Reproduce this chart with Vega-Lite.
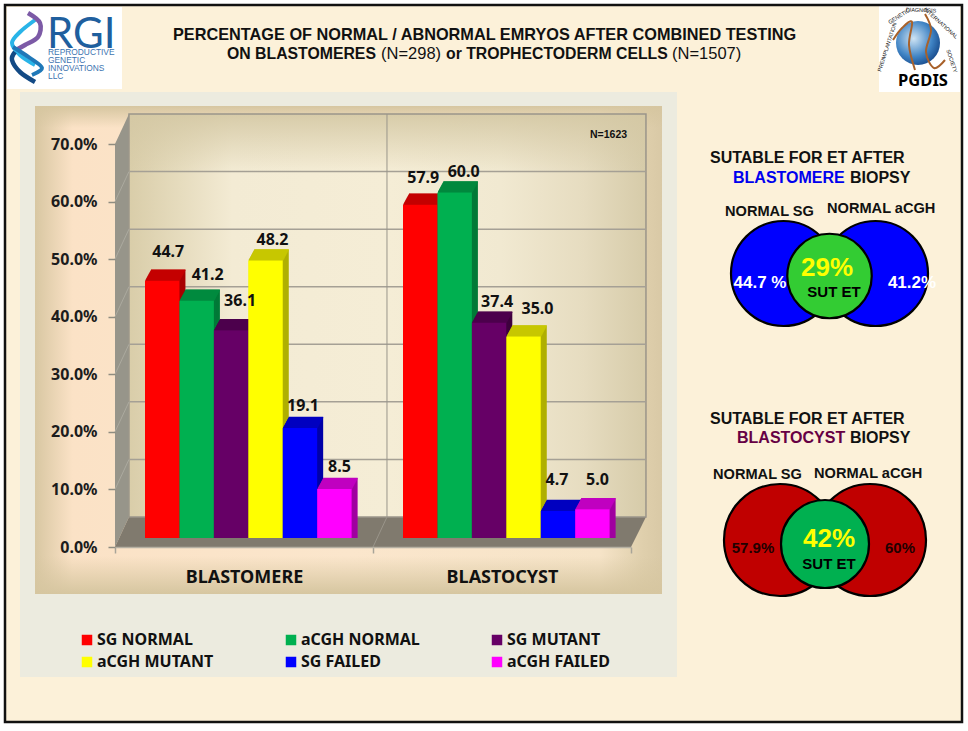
{
"$schema":"https://vega.github.io/schema/vega-lite/v6.json",
"width":968,"height":731,"padding":0,"autosize":{"type":"none"},"background":"#ffffff",
"data":{"values":[{"slide":"PGDIS"}]},
"config":{"view":{"stroke":null},"axis":{"labels":false,"ticks":false,"domain":false,"grid":false,"title":null},"legend":{"disable":true},
"text":{"font":"Liberation Sans","fontWeight":"bold","fontSize":16,"align":"left","baseline":"middle","color":"#111111"}},
"datasets":{
"bars":[
{"group":"BLASTOMERE","series":"SG NORMAL","value":44.7},
{"group":"BLASTOMERE","series":"aCGH NORMAL","value":41.2},
{"group":"BLASTOMERE","series":"SG MUTANT","value":36.1},
{"group":"BLASTOMERE","series":"aCGH MUTANT","value":48.2},
{"group":"BLASTOMERE","series":"SG FAILED","value":19.1},
{"group":"BLASTOMERE","series":"aCGH FAILED","value":8.5},
{"group":"BLASTOCYST","series":"SG NORMAL","value":57.9},
{"group":"BLASTOCYST","series":"aCGH NORMAL","value":60.0},
{"group":"BLASTOCYST","series":"SG MUTANT","value":37.4},
{"group":"BLASTOCYST","series":"aCGH MUTANT","value":35.0},
{"group":"BLASTOCYST","series":"SG FAILED","value":4.7},
{"group":"BLASTOCYST","series":"aCGH FAILED","value":5.0}],
"grid":[{"front":10,"back":15.21},{"front":20,"back":25.21},{"front":30,"back":35.21},{"front":40,"back":45.21},{"front":50,"back":55.21},{"front":60,"back":65.21}],
"venn":[
{"biopsy":"BLASTOMERE","set":"NORMAL SG","value":44.7},{"biopsy":"BLASTOMERE","set":"NORMAL aCGH","value":41.2},{"biopsy":"BLASTOMERE","set":"SUT ET","value":29},
{"biopsy":"BLASTOCYST","set":"NORMAL SG","value":57.9},{"biopsy":"BLASTOCYST","set":"NORMAL aCGH","value":60},{"biopsy":"BLASTOCYST","set":"SUT ET","value":42}]
},
"resolve":{"scale":{"x":"independent","y":"independent"}},
"layer":[
{"layer":[
{"mark":{"type":"rect","fill":"#fcf1d9"},"encoding":{"x":{"datum":5,"scale":{"domain":[0,968],"range":[0,968],"nice":false}},"x2":{"datum":962},"y":{"datum":5,"scale":{"domain":[0,731],"range":[0,731],"nice":false}},"y2":{"datum":722}}},
{"mark":{"type":"rect","fill":"#ecebdf"},"encoding":{"x":{"datum":20},"x2":{"datum":677},"y":{"datum":92},"y2":{"datum":677}}},
{"mark":{"type":"rect","fill":{"gradient":"linear","x1":0,"y1":0,"x2":1,"y2":0,"stops":[{"offset":0,"color":"#d8c7a2"},{"offset":0.06,"color":"#fbe2c6"},{"offset":0.5,"color":"#fbe6cc"},{"offset":0.9,"color":"#f6e4c8"},{"offset":0.97,"color":"#dfcfac"},{"offset":1,"color":"#d9c9a6"}]}},"encoding":{"x":{"datum":35},"x2":{"datum":662},"y":{"datum":106},"y2":{"datum":594}}},
{"mark":{"type":"rect","fill":{"gradient":"linear","x1":0,"y1":0,"x2":0,"y2":1,"stops":[{"offset":0,"color":"rgba(214,198,160,0)"},{"offset":1,"color":"rgba(214,198,160,1)"}]}},"encoding":{"x":{"datum":35},"x2":{"datum":662},"y":{"datum":556},"y2":{"datum":594}}},
{"mark":{"type":"rect","fill":{"gradient":"linear","x1":0,"y1":0,"x2":0,"y2":1,"stops":[{"offset":0,"color":"rgba(214,198,160,1)"},{"offset":1,"color":"rgba(214,198,160,0)"}]}},"encoding":{"x":{"datum":35},"x2":{"datum":662},"y":{"datum":106},"y2":{"datum":128}}},
{"mark":{"type":"rect","fill":"#ffffff"},"encoding":{"x":{"datum":7},"x2":{"datum":122},"y":{"datum":7},"y2":{"datum":89}}},
{"mark":{"type":"rect","fill":"#ffffff"},"encoding":{"x":{"datum":879},"x2":{"datum":960},"y":{"datum":6},"y2":{"datum":92}}},
{"mark":{"type":"rect","fill":null,"stroke":"#111111","strokeWidth":2.5},"encoding":{"x":{"datum":5},"x2":{"datum":962},"y":{"datum":5},"y2":{"datum":722}}}
]},
{"layer":[
{"data":{"values":[{"along":0,"low":0,"high":70},{"along":0.0271,"low":5.21,"high":75.21}]},"mark":{"type":"area","fill":"#97958a"},"encoding":{"x":{"field":"along","type":"quantitative","title":null,"scale":{"domain":[0,1],"range":[115,631]}},"y":{"field":"low","type":"quantitative","stack":null,"scale":{"domain":[0,70],"range":[547,144]},"axis":{"title":null,"orient":"left","zindex":1,"values":[0,10,20,30,40,50,60,70],"labelExpr":"format(datum.value,'.1f')+'%'","offset":-115,"labels":true,"ticks":true,"domain":false,"grid":false,"tickSize":7,"tickColor":"#8f8c80","tickWidth":1.5,"labelPadding":11,"labelFont":"Noto Sans","labelFontWeight":"bold","labelFontSize":16,"labelColor":"#1c1c1c"}},"y2":{"field":"high"}}},
{"data":{"values":[{"depth":0,"start":0,"end":1},{"depth":5.21,"start":0.0271,"end":1.029}]},"mark":{"type":"area","orient":"horizontal","fill":"#807a6e"},"encoding":{"y":{"field":"depth","type":"quantitative","title":null,"stack":null},"x":{"field":"start","type":"quantitative","title":null},"x2":{"field":"end"}}},
{"mark":{"type":"rect","fill":{"gradient":"linear","x1":0,"y1":0,"x2":1,"y2":0,"stops":[{"offset":0,"color":"#d9cda9"},{"offset":0.1,"color":"#e6dcbe"},{"offset":0.2,"color":"#f3ebd4"},{"offset":0.5,"color":"#f5edd6"},{"offset":0.72,"color":"#f1e9d1"},{"offset":0.88,"color":"#e6dcc0"},{"offset":1,"color":"#d6cba9"}]}},"encoding":{"x":{"datum":0.0271},"x2":{"datum":1.029},"y":{"datum":5.21},"y2":{"datum":75.21}}},
{"mark":{"type":"rect","fill":{"gradient":"linear","x1":0,"y1":0,"x2":0,"y2":1,"stops":[{"offset":0,"color":"rgba(212,200,164,0.9)"},{"offset":1,"color":"rgba(212,200,164,0)"}]}},"encoding":{"x":{"datum":0.0271},"x2":{"datum":1.029},"y":{"datum":65.21},"y2":{"datum":75.21}}},
{"mark":{"type":"rect","fill":null,"stroke":"#9a958a","strokeWidth":1.5},"encoding":{"x":{"datum":0.0271},"x2":{"datum":1.029},"y":{"datum":5.21},"y2":{"datum":75.21}}},
{"data":{"name":"grid"},"mark":{"type":"rule","stroke":"#a5a095","strokeWidth":1.5},"encoding":{"x":{"datum":0.0271},"x2":{"datum":1.029},"y":{"field":"back","type":"quantitative","title":null}}},
{"data":{"name":"grid"},"mark":{"type":"rule","stroke":"#acaa9f","strokeWidth":1},"encoding":{"x":{"datum":0},"x2":{"datum":0.0271},"y":{"field":"front","type":"quantitative","title":null},"y2":{"field":"back"}}},
{"mark":{"type":"rule","stroke":"#9a958a","strokeWidth":1},"encoding":{"x":{"datum":0.5271},"y":{"datum":5.21},"y2":{"datum":75.21}}},
{"mark":{"type":"rule","stroke":"#9a958a","strokeWidth":1},"encoding":{"x":{"datum":0.5},"x2":{"datum":0.5271},"y":{"datum":0},"y2":{"datum":5.21}}}
]},
{"data":{"name":"bars"},
"encoding":{
"x":{"field":"group","type":"nominal","title":null,"scale":{"domain":["BLASTOMERE","BLASTOCYST"],"range":[115,631],"paddingInner":0,"paddingOuter":0}},
"y":{"field":"value","type":"quantitative","stack":null,"title":null,"scale":{"domain":[0,70],"range":[538,135]}}},
"resolve":{"scale":{"xOffset":"independent","color":"independent"}},
"layer":[
{"encoding":{"color":{"field":"series","type":"nominal","scale":{"domain":["SG NORMAL","aCGH NORMAL","SG MUTANT","aCGH MUTANT","SG FAILED","aCGH FAILED"],"range":["#a80000","#007a38","#3f003f","#b0b000","#0000a8","#a000a0"]}}},
"resolve":{"scale":{"xOffset":"independent"}},
"layer":[
{"mark":{"type":"bar","yOffset":-11,"y2Offset":-11},"encoding":{"xOffset":{"field":"series","type":"nominal","sort":null,"scale":{"range":[36,242.6]}}}},
{"mark":{"type":"bar","yOffset":-10,"y2Offset":-10},"encoding":{"xOffset":{"field":"series","type":"nominal","sort":null,"scale":{"range":[35.45,242.05]}}}},
{"mark":{"type":"bar","yOffset":-9,"y2Offset":-9},"encoding":{"xOffset":{"field":"series","type":"nominal","sort":null,"scale":{"range":[34.91,241.51]}}}},
{"mark":{"type":"bar","yOffset":-8,"y2Offset":-8},"encoding":{"xOffset":{"field":"series","type":"nominal","sort":null,"scale":{"range":[34.36,240.96]}}}},
{"mark":{"type":"bar","yOffset":-7,"y2Offset":-7},"encoding":{"xOffset":{"field":"series","type":"nominal","sort":null,"scale":{"range":[33.82,240.42]}}}},
{"mark":{"type":"bar","yOffset":-6,"y2Offset":-6},"encoding":{"xOffset":{"field":"series","type":"nominal","sort":null,"scale":{"range":[33.27,239.87]}}}},
{"mark":{"type":"bar","yOffset":-5,"y2Offset":-5},"encoding":{"xOffset":{"field":"series","type":"nominal","sort":null,"scale":{"range":[32.73,239.33]}}}},
{"mark":{"type":"bar","yOffset":-4,"y2Offset":-4},"encoding":{"xOffset":{"field":"series","type":"nominal","sort":null,"scale":{"range":[32.18,238.78]}}}},
{"mark":{"type":"bar","yOffset":-3,"y2Offset":-3},"encoding":{"xOffset":{"field":"series","type":"nominal","sort":null,"scale":{"range":[31.64,238.24]}}}},
{"mark":{"type":"bar","yOffset":-2,"y2Offset":-2},"encoding":{"xOffset":{"field":"series","type":"nominal","sort":null,"scale":{"range":[31.09,237.69]}}}},
{"mark":{"type":"bar","yOffset":-1,"y2Offset":-1},"encoding":{"xOffset":{"field":"series","type":"nominal","sort":null,"scale":{"range":[30.55,237.15]}}}}
]},
{"encoding":{"color":{"field":"series","type":"nominal","scale":{"domain":["SG NORMAL","aCGH NORMAL","SG MUTANT","aCGH MUTANT","SG FAILED","aCGH FAILED"],"range":["#c80000","#008a3e","#4c004c","#c8c800","#0000c0","#c000c0"]}}},
"resolve":{"scale":{"xOffset":"independent"}},
"layer":[
{"mark":{"type":"tick","opacity":1,"thickness":1.4,"width":{"band":1},"yOffset":-10.5},"encoding":{"xOffset":{"field":"series","type":"nominal","sort":null,"scale":{"range":[36,242.6]}}}},
{"mark":{"type":"tick","opacity":1,"thickness":1.4,"width":{"band":1},"yOffset":-9.5},"encoding":{"xOffset":{"field":"series","type":"nominal","sort":null,"scale":{"range":[35.45,242.05]}}}},
{"mark":{"type":"tick","opacity":1,"thickness":1.4,"width":{"band":1},"yOffset":-8.5},"encoding":{"xOffset":{"field":"series","type":"nominal","sort":null,"scale":{"range":[34.91,241.51]}}}},
{"mark":{"type":"tick","opacity":1,"thickness":1.4,"width":{"band":1},"yOffset":-7.5},"encoding":{"xOffset":{"field":"series","type":"nominal","sort":null,"scale":{"range":[34.36,240.96]}}}},
{"mark":{"type":"tick","opacity":1,"thickness":1.4,"width":{"band":1},"yOffset":-6.5},"encoding":{"xOffset":{"field":"series","type":"nominal","sort":null,"scale":{"range":[33.82,240.42]}}}},
{"mark":{"type":"tick","opacity":1,"thickness":1.4,"width":{"band":1},"yOffset":-5.5},"encoding":{"xOffset":{"field":"series","type":"nominal","sort":null,"scale":{"range":[33.27,239.87]}}}},
{"mark":{"type":"tick","opacity":1,"thickness":1.4,"width":{"band":1},"yOffset":-4.5},"encoding":{"xOffset":{"field":"series","type":"nominal","sort":null,"scale":{"range":[32.73,239.33]}}}},
{"mark":{"type":"tick","opacity":1,"thickness":1.4,"width":{"band":1},"yOffset":-3.5},"encoding":{"xOffset":{"field":"series","type":"nominal","sort":null,"scale":{"range":[32.18,238.78]}}}},
{"mark":{"type":"tick","opacity":1,"thickness":1.4,"width":{"band":1},"yOffset":-2.5},"encoding":{"xOffset":{"field":"series","type":"nominal","sort":null,"scale":{"range":[31.64,238.24]}}}},
{"mark":{"type":"tick","opacity":1,"thickness":1.4,"width":{"band":1},"yOffset":-1.5},"encoding":{"xOffset":{"field":"series","type":"nominal","sort":null,"scale":{"range":[31.09,237.69]}}}},
{"mark":{"type":"tick","opacity":1,"thickness":1.4,"width":{"band":1},"yOffset":-0.5},"encoding":{"xOffset":{"field":"series","type":"nominal","sort":null,"scale":{"range":[30.55,237.15]}}}}
]},
{"encoding":{"xOffset":{"field":"series","type":"nominal","sort":null,"scale":{"range":[30,236.6]}}},
"layer":[
{"mark":{"type":"bar"},"encoding":{
"x":{"field":"group","type":"nominal","axis":{"title":null,"orient":"bottom","zindex":1,"offset":-184,"labels":true,"ticks":true,"domain":true,"tickBand":"extent","tickSize":6,"tickColor":"#a8a498","tickWidth":1.5,"domainColor":"#b5b0a2","domainWidth":1.5,"labelAngle":0,"labelAlign":"center","labelPadding":24,"labelFont":"Noto Sans","labelFontWeight":"bold","labelFontSize":18,"labelColor":"#111111"}},
"color":{"field":"series","type":"nominal","scale":{"domain":["SG NORMAL","aCGH NORMAL","SG MUTANT","aCGH MUTANT","SG FAILED","aCGH FAILED"],"range":["#ff0000","#00b050","#660066","#ffff00","#0000ff","#ff00ff"]},"legend":{"disable":false,"title":null,"orient":"none","direction":"horizontal","legendX":79,"legendY":632,"columns":3,"columnPadding":69,"rowPadding":6,"symbolType":"square","symbolSize":110,"symbolStrokeWidth":0,"symbolOpacity":1,"labelFont":"Noto Sans","labelFontWeight":"bold","labelFontSize":16,"labelColor":"#111111","labelOffset":2}}}},
{"transform":[{"filter":"datum.value==44.7"}],"mark":{"type":"text","font":"Noto Sans","fontSize":16,"align":"center","dx":6,"dy":-28.6},"encoding":{"text":{"field":"value","type":"quantitative","format":".1f"}}},
{"transform":[{"filter":"datum.value==41.2"}],"mark":{"type":"text","font":"Noto Sans","fontSize":16,"align":"center","dx":11,"dy":-26},"encoding":{"text":{"field":"value","type":"quantitative","format":".1f"}}},
{"transform":[{"filter":"datum.value==36.1"}],"mark":{"type":"text","font":"Noto Sans","fontSize":16,"align":"center","dx":9,"dy":-29},"encoding":{"text":{"field":"value","type":"quantitative","format":".1f"}}},
{"transform":[{"filter":"datum.value==48.2"}],"mark":{"type":"text","font":"Noto Sans","fontSize":16,"align":"center","dx":7,"dy":-20.5},"encoding":{"text":{"field":"value","type":"quantitative","format":".1f"}}},
{"transform":[{"filter":"datum.value==19.1"}],"mark":{"type":"text","font":"Noto Sans","fontSize":16,"align":"center","dx":3,"dy":-22},"encoding":{"text":{"field":"value","type":"quantitative","format":".1f"}}},
{"transform":[{"filter":"datum.value==8.5"}],"mark":{"type":"text","font":"Noto Sans","fontSize":16,"align":"center","dx":5,"dy":-22},"encoding":{"text":{"field":"value","type":"quantitative","format":".1f"}}},
{"transform":[{"filter":"datum.value==57.9"}],"mark":{"type":"text","font":"Noto Sans","fontSize":16,"align":"center","dx":3,"dy":-27},"encoding":{"text":{"field":"value","type":"quantitative","format":".1f"}}},
{"transform":[{"filter":"datum.value==60"}],"mark":{"type":"text","font":"Noto Sans","fontSize":16,"align":"center","dx":9,"dy":-21},"encoding":{"text":{"field":"value","type":"quantitative","format":".1f"}}},
{"transform":[{"filter":"datum.value==37.4"}],"mark":{"type":"text","font":"Noto Sans","fontSize":16,"align":"center","dx":8,"dy":-21},"encoding":{"text":{"field":"value","type":"quantitative","format":".1f"}}},
{"transform":[{"filter":"datum.value==35"}],"mark":{"type":"text","font":"Noto Sans","fontSize":16,"align":"center","dx":14,"dy":-27.5},"encoding":{"text":{"field":"value","type":"quantitative","format":".1f"}}},
{"transform":[{"filter":"datum.value==4.7"}],"mark":{"type":"text","font":"Noto Sans","fontSize":16,"align":"center","dx":-1,"dy":-31},"encoding":{"text":{"field":"value","type":"quantitative","format":".1f"}}},
{"transform":[{"filter":"datum.value==5"}],"mark":{"type":"text","font":"Noto Sans","fontSize":16,"align":"center","dx":5,"dy":-29},"encoding":{"text":{"field":"value","type":"quantitative","format":".1f"}}}
]}
]},
{"data":{"name":"venn"},"transform":[{"filter":"datum.biopsy=='BLASTOMERE'"}],
"encoding":{"x":{"field":"set","type":"nominal","title":null,"scale":{"type":"point","padding":0,"domain":["NORMAL SG","SUT ET","NORMAL aCGH"],"range":[783.5,875.5]}},"y":{"field":"biopsy","type":"nominal","title":null,"scale":{"type":"point","padding":0,"domain":["BLASTOMERE","BLASTOCYST"],"range":[273.5,540]}}},
"layer":[
{"transform":[{"filter":"datum.set!='SUT ET'"}],"mark":{"type":"circle","size":11025,"opacity":1,"fill":"#0000ff","stroke":"#000000","strokeWidth":2.2}},
{"transform":[{"filter":"datum.set=='SUT ET'"}],"mark":{"type":"circle","size":7140,"opacity":1,"fill":"#33cc33","stroke":"#000000","strokeWidth":2.2,"yOffset":2.5}}
]},
{"data":{"name":"venn"},"transform":[{"filter":"datum.biopsy=='BLASTOCYST'"}],
"encoding":{"x":{"field":"set","type":"nominal","title":null,"scale":{"type":"point","padding":0,"domain":["NORMAL SG","SUT ET","NORMAL aCGH"],"range":[780,870]}},"y":{"field":"biopsy","type":"nominal","title":null,"scale":{"type":"point","padding":0,"domain":["BLASTOMERE","BLASTOCYST"],"range":[273.5,540]}}},
"layer":[
{"transform":[{"filter":"datum.set!='SUT ET'"}],"mark":{"type":"circle","size":12544,"opacity":1,"fill":"#c00000","stroke":"#000000","strokeWidth":2.2}},
{"transform":[{"filter":"datum.set=='SUT ET'"}],"mark":{"type":"circle","size":7744,"opacity":1,"fill":"#00b050","stroke":"#000000","strokeWidth":2.2,"yOffset":4}}
]},
{"layer":[
{"mark":{"type":"text","fontSize":16.3},"encoding":{"x":{"datum":173,"scale":{"domain":[0,968],"range":[0,968],"nice":false}},"y":{"datum":35,"scale":{"domain":[0,731],"range":[0,731],"nice":false}},"text":{"value":"PERCENTAGE OF NORMAL / ABNORMAL EMRYOS AFTER COMBINED TESTING"}}},
{"mark":{"type":"text","fontSize":15.8},"encoding":{"x":{"datum":227},"y":{"datum":54},"text":{"value":"ON BLASTOMERES"}}},
{"mark":{"type":"text","fontSize":16.5,"fontWeight":"normal"},"encoding":{"x":{"datum":381},"y":{"datum":54},"text":{"value":"(N=298)"}}},
{"mark":{"type":"text","fontSize":15.8},"encoding":{"x":{"datum":446},"y":{"datum":54},"text":{"value":"or TROPHECTODERM CELLS"}}},
{"mark":{"type":"text","fontSize":16.5,"fontWeight":"normal"},"encoding":{"x":{"datum":672},"y":{"datum":54},"text":{"value":"(N=1507)"}}},
{"mark":{"type":"text","fontSize":10.5},"encoding":{"x":{"datum":590},"y":{"datum":135},"text":{"value":"N=1623"}}},
{"mark":{"type":"text"},"encoding":{"x":{"datum":710},"y":{"datum":158},"text":{"value":"SUTABLE FOR ET AFTER"}}},
{"mark":{"type":"text","color":"#0000ee"},"encoding":{"x":{"datum":733},"y":{"datum":178},"text":{"value":"BLASTOMERE"}}},
{"mark":{"type":"text"},"encoding":{"x":{"datum":850},"y":{"datum":178},"text":{"value":"BIOPSY"}}},
{"mark":{"type":"text","fontSize":14.6},"encoding":{"x":{"datum":725},"y":{"datum":212},"text":{"value":"NORMAL SG"}}},
{"mark":{"type":"text","fontSize":14.6},"encoding":{"x":{"datum":827},"y":{"datum":209},"text":{"value":"NORMAL aCGH"}}},
{"mark":{"type":"text","fontSize":17,"align":"center","color":"#ffffff"},"encoding":{"x":{"datum":760},"y":{"datum":283},"text":{"value":"44.7 %"}}},
{"mark":{"type":"text","fontSize":17,"align":"center","color":"#ffffff"},"encoding":{"x":{"datum":912},"y":{"datum":283},"text":{"value":"41.2%"}}},
{"mark":{"type":"text","fontSize":26,"align":"center","color":"#ffff00"},"encoding":{"x":{"datum":827},"y":{"datum":268},"text":{"value":"29%"}}},
{"mark":{"type":"text","fontSize":15,"align":"center","color":"#000000"},"encoding":{"x":{"datum":834},"y":{"datum":292},"text":{"value":"SUT ET"}}},
{"mark":{"type":"text"},"encoding":{"x":{"datum":710},"y":{"datum":419},"text":{"value":"SUTABLE FOR ET AFTER"}}},
{"mark":{"type":"text","color":"#660044"},"encoding":{"x":{"datum":737},"y":{"datum":438},"text":{"value":"BLASTOCYST"}}},
{"mark":{"type":"text"},"encoding":{"x":{"datum":850},"y":{"datum":438},"text":{"value":"BIOPSY"}}},
{"mark":{"type":"text","fontSize":14.6},"encoding":{"x":{"datum":713},"y":{"datum":475},"text":{"value":"NORMAL SG"}}},
{"mark":{"type":"text","fontSize":14.6},"encoding":{"x":{"datum":814},"y":{"datum":474},"text":{"value":"NORMAL aCGH"}}},
{"mark":{"type":"text","fontSize":15,"align":"center","color":"#220000"},"encoding":{"x":{"datum":753},"y":{"datum":548},"text":{"value":"57.9%"}}},
{"mark":{"type":"text","fontSize":15,"align":"center","color":"#220000"},"encoding":{"x":{"datum":900},"y":{"datum":548},"text":{"value":"60%"}}},
{"mark":{"type":"text","fontSize":26,"align":"center","color":"#ffff00"},"encoding":{"x":{"datum":829},"y":{"datum":539},"text":{"value":"42%"}}},
{"mark":{"type":"text","fontSize":15,"align":"center","color":"#000000"},"encoding":{"x":{"datum":829},"y":{"datum":564},"text":{"value":"SUT ET"}}},
{"mark":{"type":"text","font":"Lato","fontWeight":"normal","fontSize":42,"baseline":"alphabetic","color":"#1f5f9e"},"encoding":{"x":{"datum":47},"y":{"datum":48},"text":{"value":"RGI"}}},
{"mark":{"type":"text","fontWeight":"normal","fontSize":8.4,"color":"#3d74b0"},"encoding":{"x":{"datum":48},"y":{"datum":52},"text":{"value":"REPRODUCTIVE"}}},
{"mark":{"type":"text","fontWeight":"normal","fontSize":8.4,"color":"#3d74b0"},"encoding":{"x":{"datum":48},"y":{"datum":60},"text":{"value":"GENETIC"}}},
{"mark":{"type":"text","fontWeight":"normal","fontSize":8.4,"color":"#3d74b0"},"encoding":{"x":{"datum":48},"y":{"datum":68},"text":{"value":"INNOVATIONS"}}},
{"mark":{"type":"text","fontWeight":"normal","fontSize":8.4,"color":"#3d74b0"},"encoding":{"x":{"datum":48},"y":{"datum":76},"text":{"value":"LLC"}}},
{"data":{"values":[{"s":0,"a":35,"b":20},{"s":1,"a":20,"b":32},{"s":2,"a":12,"b":43},{"s":3,"a":20,"b":55},{"s":4,"a":35,"b":65}]},"mark":{"type":"line","interpolate":"cardinal","stroke":"#29b4e8","strokeWidth":4},"encoding":{"x":{"field":"a","type":"quantitative","title":null},"y":{"field":"b","type":"quantitative","title":null},"order":{"field":"s","type":"quantitative"}}},
{"data":{"values":[{"s":0,"a":28,"b":13},{"s":1,"a":40,"b":23},{"s":2,"a":38,"b":37},{"s":3,"a":25,"b":45},{"s":4,"a":16,"b":50}]},"mark":{"type":"line","interpolate":"cardinal","stroke":"#7c5aa6","strokeWidth":4.5},"encoding":{"x":{"field":"a","type":"quantitative","title":null},"y":{"field":"b","type":"quantitative","title":null},"order":{"field":"s","type":"quantitative"}}},
{"data":{"values":[{"s":0,"a":13,"b":47},{"s":1,"a":30,"b":58},{"s":2,"a":42,"b":68},{"s":3,"a":32,"b":75}]},"mark":{"type":"line","interpolate":"cardinal","stroke":"#1f78b8","strokeWidth":4},"encoding":{"x":{"field":"a","type":"quantitative","title":null},"y":{"field":"b","type":"quantitative","title":null},"order":{"field":"s","type":"quantitative"}}},
{"data":{"values":[{"s":0,"a":15,"b":52},{"s":1,"a":12,"b":60},{"s":2,"a":20,"b":72},{"s":3,"a":35,"b":82}]},"mark":{"type":"line","interpolate":"cardinal","stroke":"#134a85","strokeWidth":4.5},"encoding":{"x":{"field":"a","type":"quantitative","title":null},"y":{"field":"b","type":"quantitative","title":null},"order":{"field":"s","type":"quantitative"}}},
{"mark":{"type":"circle","size":1936,"opacity":1,"fill":{"gradient":"radial","x1":0.4,"y1":0.4,"x2":0.4,"y2":0.4,"r1":0,"r2":0.7,"stops":[{"offset":0,"color":"#cfe4f4"},{"offset":0.6,"color":"#3f83c4"},{"offset":1,"color":"#103f80"}]}},"encoding":{"x":{"datum":918},"y":{"datum":43}}},
{"data":{"values":[{"s":0,"a":893,"b":40},{"s":1,"a":902,"b":28},{"s":2,"a":912,"b":22},{"s":3,"a":909,"b":45},{"s":4,"a":915,"b":70}]},"mark":{"type":"line","interpolate":"cardinal","stroke":"#a8612a","strokeWidth":2},"encoding":{"x":{"field":"a","type":"quantitative","title":null},"y":{"field":"b","type":"quantitative","title":null},"order":{"field":"s","type":"quantitative"}}},
{"data":{"values":[{"s":0,"a":925,"b":14},{"s":1,"a":931,"b":30},{"s":2,"a":926,"b":52},{"s":3,"a":934,"b":68},{"s":4,"a":945,"b":60}]},"mark":{"type":"line","interpolate":"cardinal","stroke":"#a8612a","strokeWidth":2},"encoding":{"x":{"field":"a","type":"quantitative","title":null},"y":{"field":"b","type":"quantitative","title":null},"order":{"field":"s","type":"quantitative"}}},
{"mark":{"type":"text","fontSize":5.5,"align":"center","fontWeight":"normal","angle":-72},"encoding":{"x":{"datum":887},"y":{"datum":47},"text":{"value":"PREIMPLANTATION"}}},
{"mark":{"type":"text","fontSize":5.5,"align":"center","fontWeight":"normal","angle":-32},"encoding":{"x":{"datum":899},"y":{"datum":16},"text":{"value":"GENETIC"}}},
{"mark":{"type":"text","fontSize":5.5,"align":"center","fontWeight":"normal","angle":2},"encoding":{"x":{"datum":921},"y":{"datum":10},"text":{"value":"DIAGNOSIS"}}},
{"mark":{"type":"text","fontSize":5.5,"align":"center","fontWeight":"normal","angle":42},"encoding":{"x":{"datum":941},"y":{"datum":23},"text":{"value":"INTERNATIONAL"}}},
{"mark":{"type":"text","fontSize":5.5,"align":"center","fontWeight":"normal","angle":72},"encoding":{"x":{"datum":952},"y":{"datum":61},"text":{"value":"SOCIETY"}}},
{"mark":{"type":"text","font":"Noto Sans","fontSize":16.5,"align":"center","color":"#000000"},"encoding":{"x":{"datum":923},"y":{"datum":81},"text":{"value":"PGDIS"}}}
]}
]
}
